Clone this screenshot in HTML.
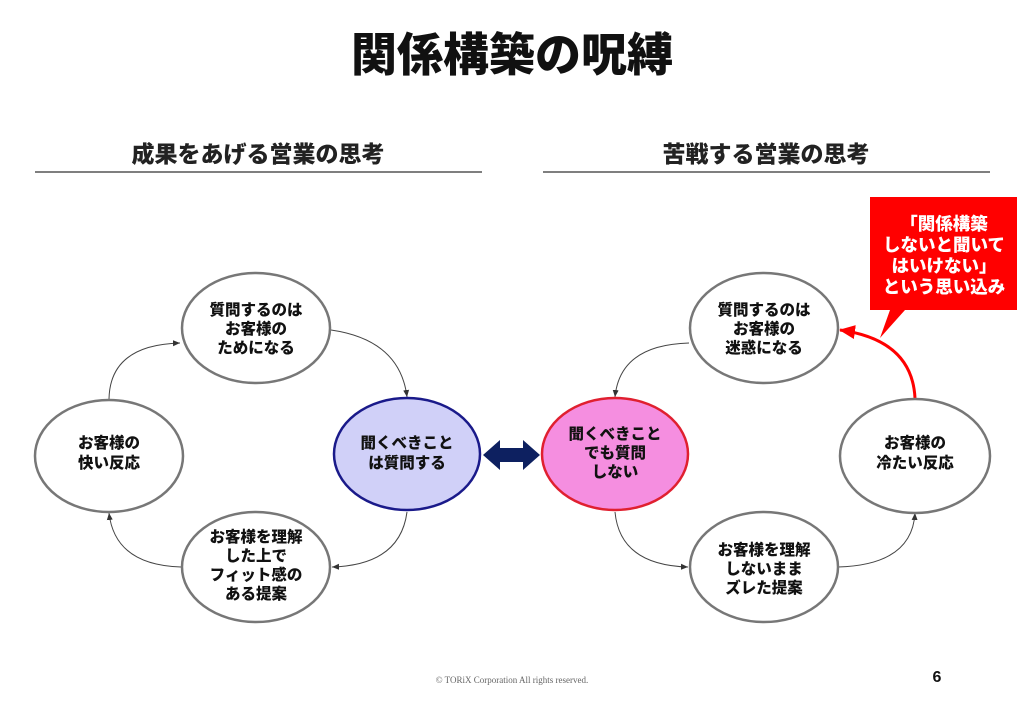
<!DOCTYPE html>
<html><head><meta charset="utf-8"><style>
html,body{margin:0;padding:0;background:#fff;}
body{width:1024px;height:709px;position:relative;overflow:hidden;font-family:"Liberation Sans","Noto Sans CJK JP",sans-serif;}
svg{position:absolute;left:0;top:0;}
text{font-family:"Liberation Sans","Noto Sans CJK JP",sans-serif;font-weight:900;}
</style></head><body>
<svg width="1024" height="709" viewBox="0 0 1024 709">
<defs>
<marker id="a" markerWidth="8" markerHeight="8" refX="7" refY="4" orient="auto" markerUnits="userSpaceOnUse"><path d="M0,1 L7,4 L0,7z" fill="#333"/></marker>
<marker id="r" markerWidth="18" markerHeight="18" refX="15" refY="9" orient="auto" markerUnits="userSpaceOnUse"><path d="M0,2 L16,9 L0,16z" fill="#f00"/></marker>
</defs>
<text x="512" y="71" font-size="46" text-anchor="middle" fill="#111">関係構築の呪縛</text>
<text x="258" y="162" font-size="23" text-anchor="middle" fill="#222">成果をあげる営業の思考</text>
<text x="766" y="162" font-size="23" text-anchor="middle" fill="#222">苦戦する営業の思考</text>
<line x1="35" y1="172" x2="482" y2="172" stroke="#555" stroke-width="1.5"/>
<line x1="543" y1="172" x2="990" y2="172" stroke="#555" stroke-width="1.5"/>

<g fill="none" stroke="#444" stroke-width="1">
<path d="M331,330 Q400,340 407,397" marker-end="url(#a)"/>
<path d="M407,512 Q400,565 332,567" marker-end="url(#a)"/>
<path d="M181,567 Q115,565 109,513" marker-end="url(#a)"/>
<path d="M109,399 Q110,345 180,343" marker-end="url(#a)"/>
<path d="M689,343 Q620,345 615,397" marker-end="url(#a)"/>
<path d="M615,512 Q620,565 688,567" marker-end="url(#a)"/>
<path d="M838,567 Q912,565 915,513" marker-end="url(#a)"/>
</g>
<path d="M915,398 Q912,340 840,330" fill="none" stroke="#f00" stroke-width="3" marker-end="url(#r)"/>

<g stroke="#777" stroke-width="2.5" fill="#fff">
<ellipse cx="256" cy="328" rx="74" ry="55"/>
<ellipse cx="109" cy="456" rx="74" ry="56"/>
<ellipse cx="256" cy="567" rx="74" ry="55"/>
<ellipse cx="764" cy="328" rx="74" ry="55"/>
<ellipse cx="915" cy="456" rx="75" ry="57"/>
<ellipse cx="764" cy="567" rx="74" ry="55"/>
</g>
<ellipse cx="407" cy="454" rx="73" ry="56" fill="#d0d0f8" stroke="#1a1a8a" stroke-width="2.5"/>
<ellipse cx="615" cy="454" rx="73" ry="56" fill="#f58ee0" stroke="#e02030" stroke-width="2.5"/>

<path d="M483,455 L500,440 L500,448 L523,448 L523,440 L540,455 L523,470 L523,462 L500,462 L500,470z" fill="#0d2060"/>

<path d="M870,197 L1017,197 L1017,310 L905,310 L880,338 L890,310 L870,310z" fill="#f00"/>

<g font-size="15.5" text-anchor="middle" fill="#111">
<text x="256" y="315">質問するのは</text><text x="256" y="334">お客様の</text><text x="256" y="353">ためになる</text>
<text x="109" y="448">お客様の</text><text x="109" y="468">快い反応</text>
<text x="256" y="542">お客様を理解</text><text x="256" y="561">した上で</text><text x="256" y="580">フィット感の</text><text x="256" y="599">ある提案</text>
<text x="407" y="448">聞くべきこと</text><text x="407" y="468">は質問する</text>
<text x="615" y="439">聞くべきこと</text><text x="615" y="458">でも質問</text><text x="615" y="477">しない</text>
<text x="764" y="315">質問するのは</text><text x="764" y="334">お客様の</text><text x="764" y="353">迷惑になる</text>
<text x="915" y="448">お客様の</text><text x="915" y="468">冷たい反応</text>
<text x="764" y="555">お客様を理解</text><text x="764" y="574">しないまま</text><text x="764" y="593">ズレた提案</text>
</g>
<g font-size="17.5" text-anchor="middle" fill="#fff">
<text x="944" y="230">「関係構築</text><text x="944" y="251">しないと聞いて</text><text x="944" y="272">はいけない」</text><text x="944" y="293">という思い込み</text>
</g>
<text x="512" y="683" font-size="9" text-anchor="middle" fill="#666" style="font-family:'Liberation Serif',serif;font-weight:normal">© TORiX Corporation All rights reserved.</text>
<text x="937" y="682" font-size="16" text-anchor="middle" fill="#111">6</text>
</svg>
</body></html>
